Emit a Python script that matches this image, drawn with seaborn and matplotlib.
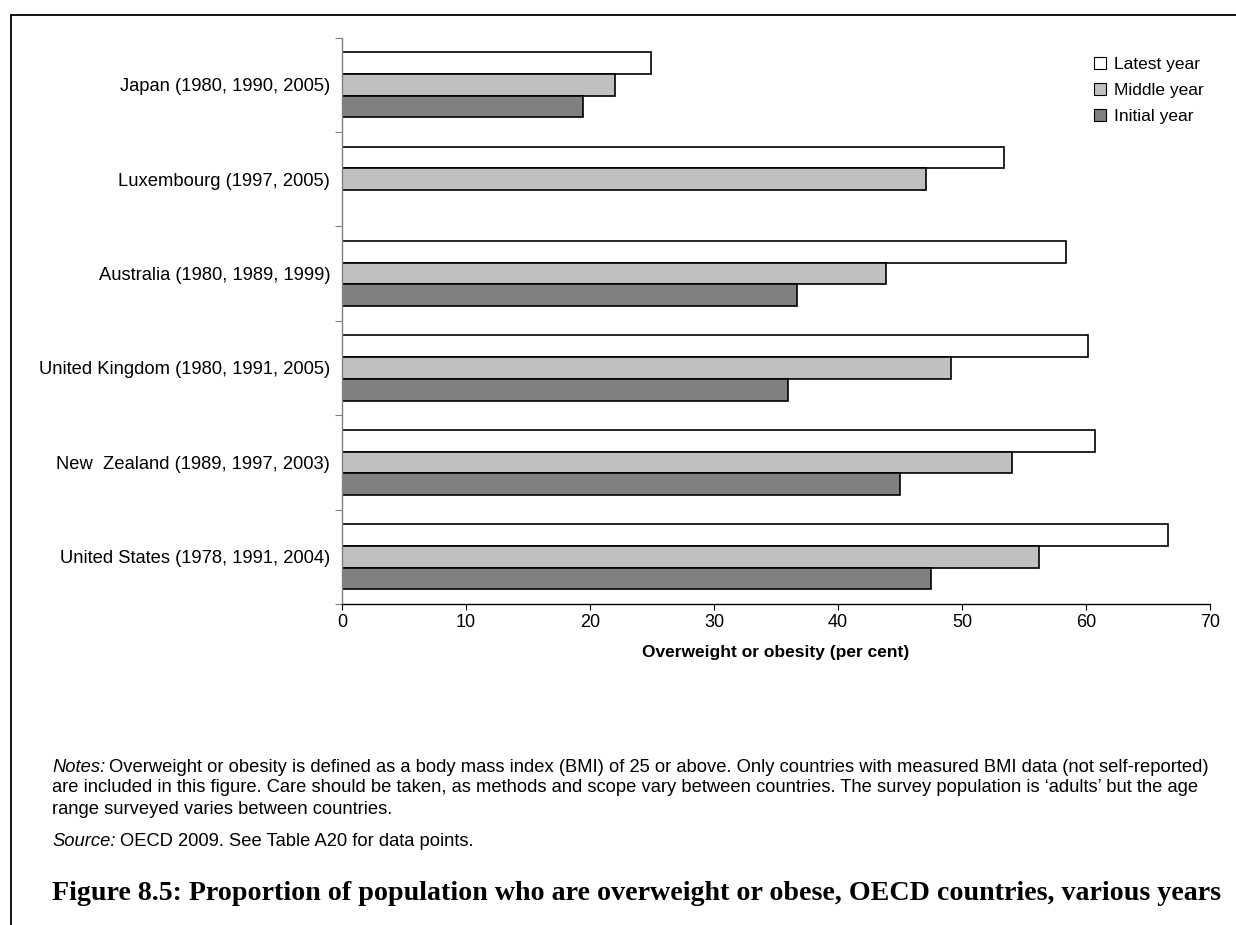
import pandas as pd
import numpy as np
import matplotlib
matplotlib.use("Agg")
from matplotlib import pyplot as plt
from matplotlib.patches import Patch
from matplotlib.lines import Line2D
import seaborn as sns

# Data
countries = [
    "Japan (1980, 1990, 2005)",
    "Luxembourg (1997, 2005)",
    "Australia (1980, 1989, 1999)",
    "United Kingdom (1980, 1991, 2005)",
    "New  Zealand (1989, 1997, 2003)",
    "United States (1978, 1991, 2004)",
]
series = ["Latest year", "Middle year", "Initial year"]
latest_year = [24.9, 53.4, 58.4, 60.2, 60.7, 66.6]
middle_year = [22.0, 47.1, 43.9, 49.1, 54.0, 56.2]
initial_year = [19.4, np.nan, 36.7, 36.0, 45.0, 47.5]
colors = ["#FFFFFF", "#C0C0C0", "#808080"]
x_ticks = [0, 10, 20, 30, 40, 50, 60, 70]

df = pd.DataFrame({
    "country": countries * 3,
    "series": [s for s in series for _ in countries],
    "value": latest_year + middle_year + initial_year,
})

sns.set_style("white")
plt.rcParams["font.family"] = ["Liberation Sans", "DejaVu Sans"]
plt.rcParams["text.color"] = "black"
plt.rcParams["axes.labelcolor"] = "black"
plt.rcParams["xtick.color"] = "black"
plt.rcParams["ytick.color"] = "black"

fig = plt.figure(figsize=(12.36, 9.25), dpi=100)
ax = fig.add_axes([342 / 1236, 1 - 604 / 925, (1210 - 342) / 1236, (604 - 37.6) / 925])

sns.barplot(data=df, y="country", x="value", hue="series", order=countries,
            hue_order=series, palette=colors, orient="h", width=0.69,
            edgecolor="black", linewidth=1.2, saturation=1, legend=False, ax=ax)

ax.set_xlim(0, 70)
ax.set_ylim(len(countries) - 0.5, -0.5)
ax.set_xticks(x_ticks)
ax.set_xticklabels([str(t) for t in x_ticks], fontsize=13)
ax.tick_params(axis="x", length=4, width=0.8, direction="out", pad=3, bottom=True)

# labels at the category centres, tick marks at the boundaries
ax.set_yticks(range(len(countries)))
ax.set_yticklabels(countries, fontsize=13.2)
ax.set_yticks(np.arange(-0.5, len(countries), 1), minor=True)
ax.tick_params(axis="y", which="major", length=0, pad=8.5)
ax.tick_params(axis="y", which="minor", length=5, width=0.8, left=True, color="#808080")

ax.set_xlabel("Overweight or obesity (per cent)", fontsize=12.5, fontweight="bold", labelpad=10)
ax.set_ylabel("")

for side in ["top", "right"]:
    ax.spines[side].set_visible(False)
ax.spines["left"].set_color("#808080")
ax.spines["bottom"].set_color("black")
ax.spines["left"].set_linewidth(1)
ax.spines["bottom"].set_linewidth(1)

handles = [Patch(facecolor=c, edgecolor="black", linewidth=0.8) for c in colors]
fig.legend(handles, series, loc="upper left", bbox_to_anchor=(1094 / 1236, 1 - 57 / 925),
           frameon=False, fontsize=12.5, handlelength=0.7, handleheight=0.7,
           handletextpad=0.45, labelspacing=0.62, borderpad=0, borderaxespad=0)

# notes, source and caption
fs_note = 13.2
notes = [
    "Overweight or obesity is defined as a body mass index (BMI) of 25 or above. Only countries with measured BMI data (not self-reported)",
    "are included in this figure. Care should be taken, as methods and scope vary between countries. The survey population is \u2018adults\u2019 but the age",
    "range surveyed varies between countries.",
]
t0 = fig.text(52 / 1236, 1 - 767 / 925, "Notes:", fontsize=fs_note, va="center", style="italic")
t1 = fig.text(52 / 1236, 1 - 841 / 925, "Source:", fontsize=fs_note, va="center", style="italic")
fig.canvas.draw()
w_notes = t0.get_window_extent().width
w_src = t1.get_window_extent().width
fig.text(52 / 1236 + (w_notes + 4) / 1236, 1 - 767 / 925, notes[0], fontsize=fs_note, va="center")
fig.text(52 / 1236, 1 - 788 / 925, notes[1], fontsize=fs_note, va="center")
fig.text(52 / 1236, 1 - 809 / 925, notes[2], fontsize=fs_note, va="center")
fig.text(52 / 1236 + (w_src + 4) / 1236, 1 - 841 / 925, "OECD 2009. See Table A20 for data points.",
         fontsize=fs_note, va="center")

fig.text(52 / 1236, 1 - 894 / 925,
         "Figure 8.5: Proportion of population who are overweight or obese, OECD countries, various years",
         fontsize=20.2, fontweight="bold", va="center", family=["Liberation Serif", "DejaVu Serif"])

# frame lines around the figure
fig.add_artist(Line2D([11 / 1236, 1], [1 - 15 / 925, 1 - 15 / 925], color="black", linewidth=1.3))
fig.add_artist(Line2D([11 / 1236, 11 / 1236], [0, 1 - 15 / 925], color="black", linewidth=1.3))

fig.savefig("out.png", dpi=100)
